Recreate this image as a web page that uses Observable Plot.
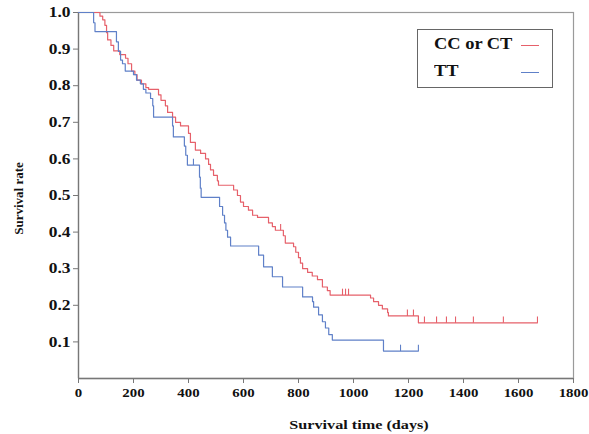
<!DOCTYPE html>
<html>
<head>
<meta charset="utf-8">
<script src="https://cdn.jsdelivr.net/npm/d3@7"></script>
<script src="https://cdn.jsdelivr.net/npm/@observablehq/plot@0.6"></script>
<style>
  body { margin: 0; background: #fff; }
  #wrap { position: relative; width: 589px; height: 434px; }
  #legend { position: absolute; left: 417px; top: 29px; width: 134px; height: 57px;
    border: 1px solid #666; background: #fff; font-family: "Liberation Serif", serif;
    font-weight: bold; font-size: 16px; color: #111; }
  .row { position: absolute; left: 16px; transform: scaleX(1.15); transform-origin: left center; white-space: nowrap; }
  .sw { position: absolute; left: 103px; width: 18px; height: 0; border-top: 1.2px solid; }
</style>
</head>
<body>
<div id="wrap"></div>
<script>
const groups = ["CC or CT", "TT"];
const colors = ["#e6606a", "#5f80c8"];

const redTime = [0,78,88,96,102,106,118,128,150,171,180,193,205,213,229,245,255,291,300,316,324,342,353,371,400,407,425,444,462,473,480,491,505,509,564,578,589,600,618,633,651,691,705,716,745,752,782,790,800,807,815,833,850,869,887,905,915,1062,1073,1091,1105,1124,1127,1236,1669];
const redSurv = [1.0,0.99,0.98,0.965,0.945,0.925,0.91,0.895,0.885,0.875,0.86,0.84,0.83,0.815,0.805,0.795,0.79,0.775,0.76,0.745,0.727,0.714,0.70,0.69,0.67,0.645,0.624,0.615,0.60,0.585,0.57,0.555,0.54,0.528,0.515,0.50,0.482,0.47,0.46,0.446,0.44,0.425,0.415,0.405,0.39,0.37,0.36,0.345,0.33,0.315,0.30,0.29,0.28,0.27,0.25,0.24,0.228,0.22,0.21,0.20,0.19,0.18,0.171,0.152,0.152];

const blueTime = [0,55,60,138,145,153,160,170,200,211,225,236,245,262,270,273,342,345,385,390,396,440,443,446,513,524,531,536,542,553,655,673,705,742,815,851,855,873,887,898,910,923,1109,1236];
const blueSurv = [1.0,0.972,0.948,0.92,0.894,0.87,0.86,0.84,0.83,0.815,0.805,0.79,0.78,0.765,0.745,0.714,0.69,0.66,0.635,0.61,0.583,0.55,0.52,0.495,0.47,0.446,0.425,0.405,0.386,0.362,0.337,0.305,0.278,0.25,0.223,0.21,0.195,0.174,0.155,0.138,0.12,0.105,0.075,0.075];

const redCensor = [735,960,971,982,1196,1218,1258,1302,1338,1371,1436,1545,1669];
const blueCensor = [418,1171,1236];

const xTicks = [0,200,400,600,800,1000,1200,1400,1600,1800];
const yTicks = [0.1,0.2,0.3,0.4,0.5,0.6,0.7,0.8,0.9,1.0];

function series(times, surv, g) { return times.map((t, i) => ({t, s: surv[i], g})); }
function survAt(times, surv, t) {
  let s = surv[0];
  for (let i = 0; i < times.length; i++) if (times[i] <= t) s = surv[i];
  return s;
}
const curves = [...series(redTime, redSurv, groups[0]), ...series(blueTime, blueSurv, groups[1])];
const censors = [
  ...redCensor.map(t => ({t, s: survAt(redTime, redSurv, t), g: groups[0]})),
  ...blueCensor.map(t => ({t, s: survAt(blueTime, blueSurv, t), g: groups[1]}))
];

const tickUp = { draw(ctx, size) { const h = Math.sqrt(size); ctx.moveTo(0, 0); ctx.lineTo(0, -h); } };

const chart = Plot.plot({
  width: 589, height: 434,
  marginLeft: 78, marginRight: 16, marginTop: 12, marginBottom: 56,
  style: { fontFamily: "Liberation Serif, serif", fontWeight: "bold", fontSize: "13px", color: "#111", background: "#fff" },
  x: { domain: [0, 1800], label: null },
  y: { domain: [0, 1], label: null },
  color: { domain: groups, range: colors },
  marks: [
    Plot.frame({ stroke: "#9a9a9a", strokeWidth: 1.2 }),
    Plot.ruleX([0], { stroke: "#777", strokeWidth: 1.3 }),
    Plot.ruleY([0], { stroke: "#777", strokeWidth: 1.3 }),
    Plot.axisX({ ticks: xTicks, tickFormat: d => String(d), tickSize: 5, tickPadding: 4, stroke: "#777", fill: "#111", fontSize: 13.5, fontWeight: "bold", label: null }),
    Plot.axisY({ ticks: yTicks, tickFormat: d3.format(".1f"), tickSize: 5, tickPadding: 3, stroke: "#777", fill: "#111", fontSize: 14.5, fontWeight: "bold", label: null }),
    Plot.line(curves, { x: "t", y: "s", z: "g", stroke: "g", curve: "step-after", strokeWidth: 1.2 }),
    Plot.dot(censors, { x: "t", y: "s", stroke: "g", symbol: tickUp, r: 3.6, strokeWidth: 1.1, fill: "none" }),
    Plot.text(["Survival time (days)"], { frameAnchor: "bottom", dx: 33, dy: 50, fontSize: 13.5, fontWeight: "bold", fill: "#111" }),
    Plot.text(["Survival rate"], { frameAnchor: "left", textAnchor: "middle", dx: -60, dy: 3, rotate: -90, fontSize: 13, fontWeight: "bold", fill: "#111" })
  ]
});

// the reference's horizontal lettering is widened; widen horizontal text likewise
chart.querySelectorAll("text").forEach(el => {
  const tr = el.getAttribute("transform") || "";
  if (tr.includes("rotate")) return;
  const inXTicks = !!el.closest('g[aria-label="x-axis tick label"]');
  const k = inXTicks ? 1.1 : 1.2;
  if (tr) {
    el.setAttribute("transform", tr + ` scale(${k},1)`);
  } else {
    const x = +(el.getAttribute("x") || 0), y = +(el.getAttribute("y") || 0);
    el.removeAttribute("x"); el.removeAttribute("y");
    el.setAttribute("transform", `translate(${x},${y}) scale(${k},1)`);
  }
});

const wrap = document.getElementById("wrap");
wrap.appendChild(chart);
const legend = document.createElement("div");
legend.id = "legend";
groups.forEach((g, i) => {
  const row = document.createElement("div");
  row.className = "row";
  row.style.top = (i === 0 ? 5 : 32) + "px";
  row.textContent = g;
  legend.appendChild(row);
  const sw = document.createElement("div");
  sw.className = "sw";
  sw.style.borderTopColor = colors[i];
  sw.style.top = (i === 0 ? 15 : 42) + "px";
  legend.appendChild(sw);
});
wrap.appendChild(legend);
</script>
</body>
</html>
